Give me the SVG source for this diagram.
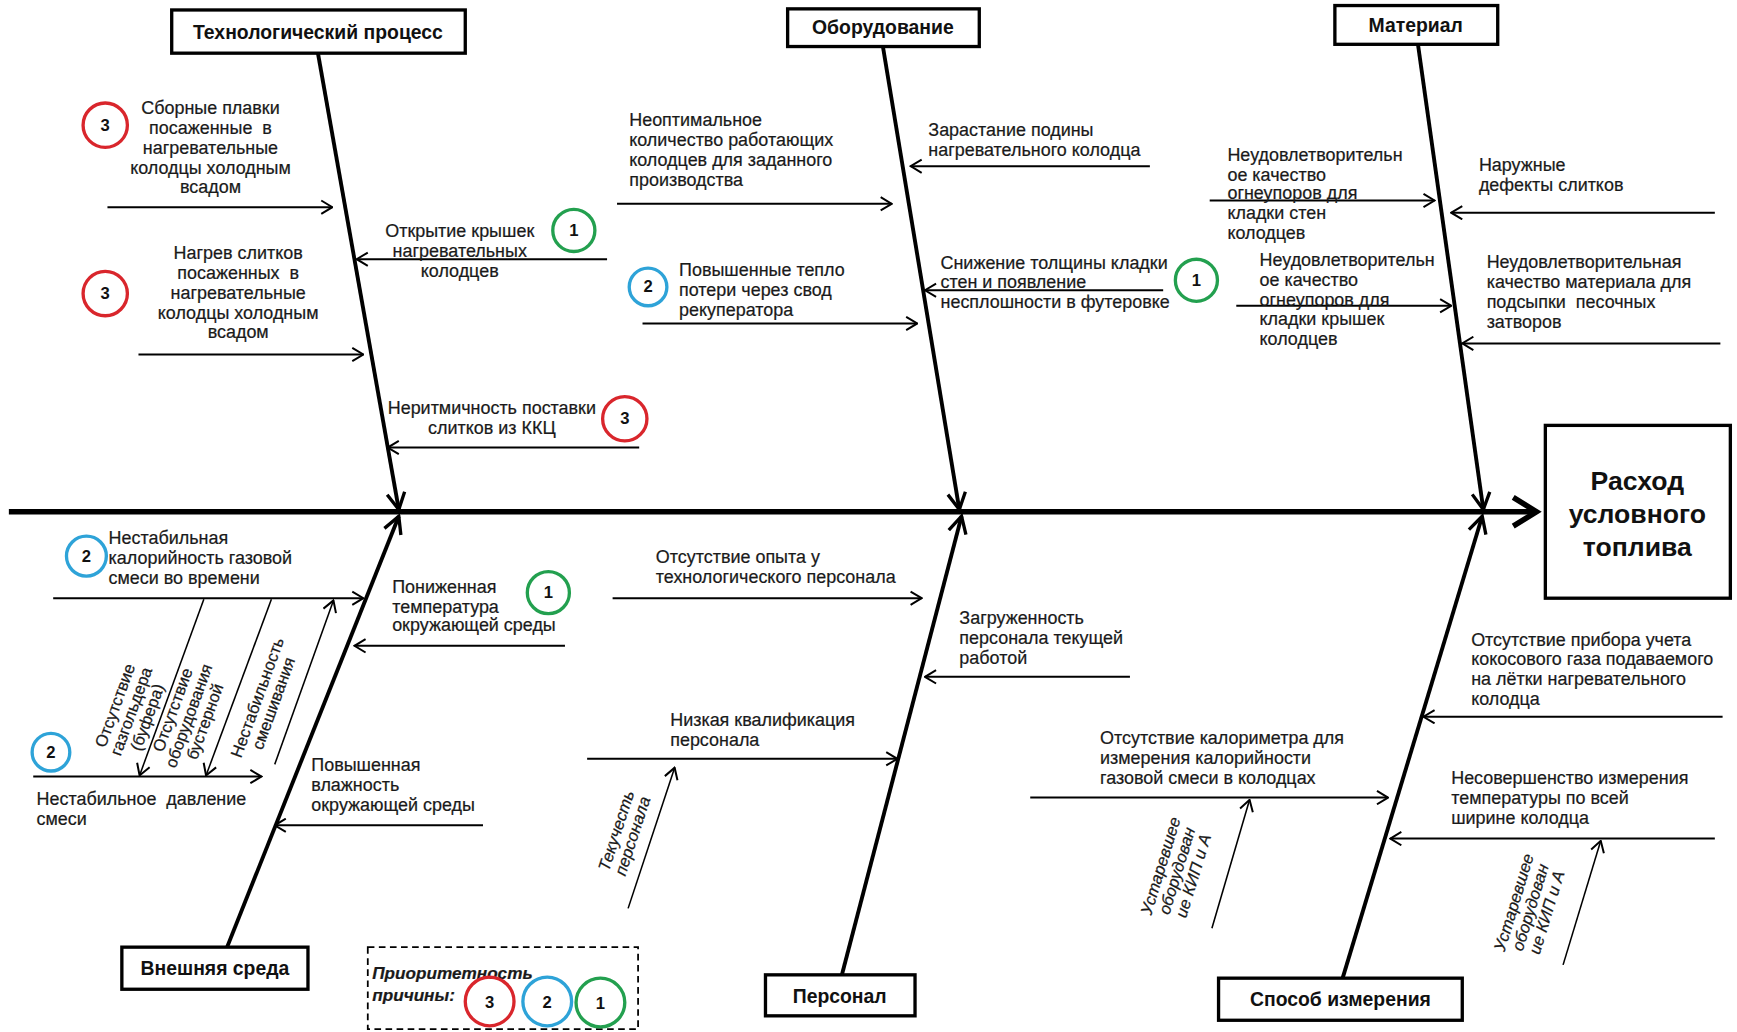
<svg xmlns="http://www.w3.org/2000/svg" width="1737" height="1032" viewBox="0 0 1737 1032">
<style>
.t{font-family:"Liberation Sans",Arial,sans-serif;font-size:16.2px;fill:#1a1a1a;stroke:#1a1a1a;stroke-width:0.2}
.m{text-anchor:middle}
.sm{font-size:15px}
.it{font-style:italic}
.pre{white-space:pre}
.hd{font-family:"Liberation Sans",Arial,sans-serif;font-size:17.5px;font-weight:bold;text-anchor:middle;fill:#111}
.box{fill:#fff;stroke:#000;stroke-width:3}
.bone{stroke:#000;stroke-width:3.5;fill:none}
.ar{stroke:#000;stroke-width:1.8;fill:none}
.sub{stroke:#000;stroke-width:1.4;fill:none}
.c{fill:#fff;stroke-width:3}
.r{stroke:#d9262c}.g{stroke:#23a04f}.b{stroke:#2ea3d8}
.n{font-family:"Liberation Sans",Arial,sans-serif;font-size:15px;font-weight:bold;text-anchor:middle;fill:#111}
</style>
<defs>
<marker id="a" viewBox="0 0 12 14" refX="11" refY="7" markerWidth="12" markerHeight="14" markerUnits="userSpaceOnUse" orient="auto"><path d="M1,1 L11,7 L1,13" fill="none" stroke="#000" stroke-width="1.8"/></marker>
<marker id="bh" viewBox="0 0 18 20" refX="16" refY="10" markerWidth="18" markerHeight="20" markerUnits="userSpaceOnUse" orient="auto"><path d="M1,2 L16,10 L1,18" fill="none" stroke="#000" stroke-width="3"/></marker>
</defs>
<rect width="1737" height="1032" fill="#fff"/>
<g transform="scale(1.10778)">
<g id="connectors">
<line x1="8" y1="462" x2="1384" y2="462" stroke="#000" stroke-width="5"/>
<polyline points="1366,449 1387,462 1366,475" fill="none" stroke="#000" stroke-width="5"/>
<line class="bone" x1="287" y1="48" x2="360" y2="460" marker-end="url(#bh)"/>
<line class="bone" x1="797" y1="42" x2="866" y2="460" marker-end="url(#bh)"/>
<line class="bone" x1="1280" y1="40" x2="1339" y2="460" marker-end="url(#bh)"/>
<line class="bone" x1="205" y1="855" x2="360" y2="466" marker-end="url(#bh)"/>
<line class="bone" x1="760" y1="880" x2="868" y2="466" marker-end="url(#bh)"/>
<line class="bone" x1="1212" y1="883" x2="1338" y2="466" marker-end="url(#bh)"/>
<line class="ar" x1="97" y1="187" x2="300" y2="187" marker-end="url(#a)"/>
<line class="ar" x1="125" y1="320" x2="328" y2="320" marker-end="url(#a)"/>
<line class="ar" x1="548" y1="234" x2="322" y2="234" marker-end="url(#a)"/>
<line class="ar" x1="577" y1="404" x2="350" y2="404" marker-end="url(#a)"/>
<line class="ar" x1="557" y1="184" x2="805" y2="184" marker-end="url(#a)"/>
<line class="ar" x1="580" y1="292" x2="828" y2="292" marker-end="url(#a)"/>
<line class="ar" x1="1038" y1="150" x2="822" y2="150" marker-end="url(#a)"/>
<line class="ar" x1="1050" y1="262" x2="835" y2="262" marker-end="url(#a)"/>
<line class="ar" x1="1092" y1="181" x2="1295" y2="181" marker-end="url(#a)"/>
<line class="ar" x1="1116" y1="276" x2="1310" y2="276" marker-end="url(#a)"/>
<line class="ar" x1="1548" y1="192" x2="1310" y2="192" marker-end="url(#a)"/>
<line class="ar" x1="1553" y1="310" x2="1320" y2="310" marker-end="url(#a)"/>
<line class="ar" x1="48" y1="540" x2="328" y2="540" marker-end="url(#a)"/>
<line class="ar" x1="30" y1="701" x2="236" y2="701" marker-end="url(#a)"/>
<line class="sub" x1="184" y1="541" x2="126" y2="700" marker-end="url(#a)"/>
<line class="sub" x1="245" y1="541" x2="186" y2="700" marker-end="url(#a)"/>
<line class="sub" x1="248" y1="690" x2="301" y2="542" marker-end="url(#a)"/>
<line class="ar" x1="510" y1="583" x2="320" y2="583" marker-end="url(#a)"/>
<line class="ar" x1="436" y1="745" x2="248" y2="745" marker-end="url(#a)"/>
<line class="ar" x1="553" y1="540" x2="832" y2="540" marker-end="url(#a)"/>
<line class="ar" x1="530" y1="685" x2="810" y2="685" marker-end="url(#a)"/>
<line class="sub" x1="567" y1="820" x2="609" y2="693" marker-end="url(#a)"/>
<line class="ar" x1="1020" y1="611" x2="835" y2="611" marker-end="url(#a)"/>
<line class="ar" x1="930" y1="720" x2="1253" y2="720" marker-end="url(#a)"/>
<line class="sub" x1="1094" y1="838" x2="1128" y2="722" marker-end="url(#a)"/>
<line class="ar" x1="1555" y1="647" x2="1285" y2="647" marker-end="url(#a)"/>
<line class="ar" x1="1548" y1="757" x2="1255" y2="757" marker-end="url(#a)"/>
<line class="sub" x1="1411" y1="871" x2="1445" y2="759" marker-end="url(#a)"/>
</g>
<g id="effect">
<rect class="box" x="1395" y="384" width="167" height="156"/>
<text class="hd" style="font-size:24px" x="1478" y="442">Расход</text>
<text class="hd" style="font-size:24px" x="1478" y="472">условного</text>
<text class="hd" style="font-size:24px" x="1478" y="502">топлива</text>
</g>
<g id="cat-tech"><rect class="box" x="155" y="9" width="265" height="39"/><text class="hd" x="287" y="35">Технологический процесс</text></g>
<g id="cat-equip"><rect class="box" x="711" y="8" width="173" height="34"/><text class="hd" x="797" y="31">Оборудование</text></g>
<g id="cat-mat"><rect class="box" x="1205" y="5" width="147" height="35"/><text class="hd" x="1278" y="29">Материал</text></g>
<g id="cat-env"><rect class="box" x="110" y="855" width="168" height="38"/><text class="hd" x="194" y="880">Внешняя среда</text></g>
<g id="cat-pers"><rect class="box" x="691" y="880" width="135" height="37"/><text class="hd" x="758" y="905">Персонал</text></g>
<g id="cat-meas"><rect class="box" x="1100" y="883" width="220" height="38"/><text class="hd" x="1210" y="908">Способ измерения</text></g>

<g id="c1">
<circle class="c r" cx="95" cy="113" r="20"/><text class="n" x="95" y="118">3</text>
<text class="t m pre" x="190"><tspan x="190" y="103">Сборные плавки</tspan><tspan x="190" y="121">посаженные  в</tspan><tspan x="190" y="139">нагревательные</tspan><tspan x="190" y="157">колодцы холодным</tspan><tspan x="190" y="174">всадом</tspan></text>
</g>
<g id="c2">
<circle class="c r" cx="95" cy="265" r="20"/><text class="n" x="95" y="270">3</text>
<text class="t m pre" x="215"><tspan x="215" y="234">Нагрев слитков</tspan><tspan x="215" y="252">посаженных  в</tspan><tspan x="215" y="270">нагревательные</tspan><tspan x="215" y="288">колодцы холодным</tspan><tspan x="215" y="305">всадом</tspan></text>
</g>
<g id="c3">
<text class="t m" x="415"><tspan x="415" y="214">Открытие крышек</tspan><tspan x="415" y="232">нагревательных</tspan><tspan x="415" y="250">колодцев</tspan></text>
<circle class="c g" cx="518" cy="208" r="19"/><text class="n" x="518" y="213">1</text>
</g>
<g id="c4">
<text class="t m" x="444"><tspan x="444" y="374">Неритмичность поставки</tspan><tspan x="444" y="392">слитков из ККЦ</tspan></text>
<circle class="c r" cx="564" cy="378" r="20"/><text class="n" x="564" y="383">3</text>
</g>
<g id="c5">
<text class="t" x="568"><tspan x="568" y="114">Неоптимальное</tspan><tspan x="568" y="132">количество работающих</tspan><tspan x="568" y="150">колодцев для заданного</tspan><tspan x="568" y="168">производства</tspan></text>
</g>
<g id="c6">
<circle class="c b" cx="585" cy="259" r="17"/><text class="n" x="585" y="264">2</text>
<text class="t" x="613"><tspan x="613" y="249">Повышенные тепло</tspan><tspan x="613" y="267">потери через свод</tspan><tspan x="613" y="285">рекуператора</tspan></text>
</g>
<g id="c7">
<text class="t" x="838"><tspan x="838" y="123">Зарастание подины</tspan><tspan x="838" y="141">нагревательного колодца</tspan></text>
</g>
<g id="c8">
<text class="t" x="849"><tspan x="849" y="243">Снижение толщины кладки</tspan><tspan x="849" y="260">стен и появление</tspan><tspan x="849" y="278">несплошности в футеровке</tspan></text>
<circle class="c g" cx="1080" cy="253" r="19"/><text class="n" x="1080" y="258">1</text>
</g>
<g id="c9">
<text class="t" x="1108"><tspan x="1108" y="145">Неудовлетворительн</tspan><tspan x="1108" y="163">ое качество</tspan><tspan x="1108" y="180">огнеупоров для</tspan><tspan x="1108" y="198">кладки стен</tspan><tspan x="1108" y="216">колодцев</tspan></text>
</g>
<g id="c10">
<text class="t" x="1137"><tspan x="1137" y="240">Неудовлетворительн</tspan><tspan x="1137" y="258">ое качество</tspan><tspan x="1137" y="276">огнеупоров для</tspan><tspan x="1137" y="293">кладки крышек</tspan><tspan x="1137" y="311">колодцев</tspan></text>
</g>
<g id="c11">
<text class="t" x="1335"><tspan x="1335" y="154">Наружные</tspan><tspan x="1335" y="172">дефекты слитков</tspan></text>
</g>
<g id="c12">
<text class="t pre" x="1342"><tspan x="1342" y="242">Неудовлетворительная</tspan><tspan x="1342" y="260">качество материала для</tspan><tspan x="1342" y="278">подсыпки  песочных</tspan><tspan x="1342" y="296">затворов</tspan></text>
</g>
<g id="c13">
<circle class="c b" cx="78" cy="502" r="18"/><text class="n" x="78" y="507">2</text>
<text class="t" x="98"><tspan x="98" y="491">Нестабильная</tspan><tspan x="98" y="509">калорийность газовой</tspan><tspan x="98" y="527">смеси во времени</tspan></text>
</g>
<g id="c13a">
<text class="t sm m" transform="translate(118,642) rotate(-70)"><tspan x="0" y="-10">Отсутствие</tspan><tspan x="0" y="5.5">газгольдера</tspan><tspan x="0" y="21">(буфера)</tspan></text>
</g>
<g id="c13b">
<text class="t sm m" transform="translate(170,646) rotate(-70)"><tspan x="0" y="-10">Отсутствие</tspan><tspan x="0" y="5.5">оборудования</tspan><tspan x="0" y="21">бустерной</tspan></text>
</g>
<g id="c13c">
<text class="t sm m" transform="translate(239,632) rotate(-70)"><tspan x="0" y="-2">Нестабильность</tspan><tspan x="0" y="13.5">смешивания</tspan></text>
</g>
<g id="c14">
<circle class="c b" cx="46" cy="679" r="17"/><text class="n" x="46" y="684">2</text>
<text class="t pre" x="33"><tspan x="33" y="727">Нестабильное  давление</tspan><tspan x="33" y="745">смеси</tspan></text>
</g>
<g id="c15">
<text class="t" x="354"><tspan x="354" y="535">Пониженная</tspan><tspan x="354" y="553">температура</tspan><tspan x="354" y="570">окружающей среды</tspan></text>
<circle class="c g" cx="495" cy="535" r="19"/><text class="n" x="495" y="540">1</text>
</g>
<g id="c16">
<text class="t" x="281"><tspan x="281" y="696">Повышенная</tspan><tspan x="281" y="714">влажность</tspan><tspan x="281" y="732">окружающей среды</tspan></text>
</g>
<g id="c17">
<text class="t" x="592"><tspan x="592" y="508">Отсутствие опыта у</tspan><tspan x="592" y="526">технологического персонала</tspan></text>
</g>
<g id="c18">
<text class="t" x="605"><tspan x="605" y="655">Низкая квалификация</tspan><tspan x="605" y="673">персонала</tspan></text>
</g>
<g id="c18a">
<text class="t sm m it" transform="translate(563,752) rotate(-72)"><tspan x="0" y="-2">Текучесть</tspan><tspan x="0" y="13.5">персонала</tspan></text>
</g>
<g id="c19">
<text class="t" x="866"><tspan x="866" y="563">Загруженность</tspan><tspan x="866" y="581">персонала текущей</tspan><tspan x="866" y="599">работой</tspan></text>
</g>
<g id="c20">
<text class="t" x="993"><tspan x="993" y="672">Отсутствие калориметра для</tspan><tspan x="993" y="690">измерения калорийности</tspan><tspan x="993" y="708">газовой смеси в колодцах</tspan></text>
</g>
<g id="c20a">
<text class="t sm m it" transform="translate(1062,786) rotate(-73)"><tspan x="0" y="-10">Устаревшее</tspan><tspan x="0" y="5.5">оборудован</tspan><tspan x="0" y="21">ие КИП и А</tspan></text>
</g>
<g id="c21">
<text class="t" x="1328"><tspan x="1328" y="583">Отсутствие прибора учета</tspan><tspan x="1328" y="600">кокосового газа подаваемого</tspan><tspan x="1328" y="618">на лётки нагревательного</tspan><tspan x="1328" y="636">колодца</tspan></text>
</g>
<g id="c22">
<text class="t" x="1310"><tspan x="1310" y="708">Несовершенство измерения</tspan><tspan x="1310" y="726">температуры по всей</tspan><tspan x="1310" y="744">ширине колодца</tspan></text>
</g>
<g id="c22a">
<text class="t sm m it" transform="translate(1381,819) rotate(-73)"><tspan x="0" y="-10">Устаревшее</tspan><tspan x="0" y="5.5">оборудован</tspan><tspan x="0" y="21">ие КИП и А</tspan></text>
</g>
<g id="legend">
<rect x="332" y="855" width="244" height="74" fill="none" stroke="#000" stroke-width="1.6" stroke-dasharray="6,4"/>
<text class="t it" style="font-weight:bold;font-size:15.5px" x="336"><tspan x="336" y="884">Приоритетность</tspan><tspan x="336" y="904">причины:</tspan></text>
<circle class="c r" cx="442" cy="904" r="22" style="fill:none"/><text class="n" x="442" y="910">3</text>
<circle class="c b" cx="494" cy="904" r="22" style="fill:none"/><text class="n" x="494" y="910">2</text>
<circle class="c g" cx="542" cy="905" r="22" style="fill:none"/><text class="n" x="542" y="911">1</text>
</g>
</g>
</svg>
